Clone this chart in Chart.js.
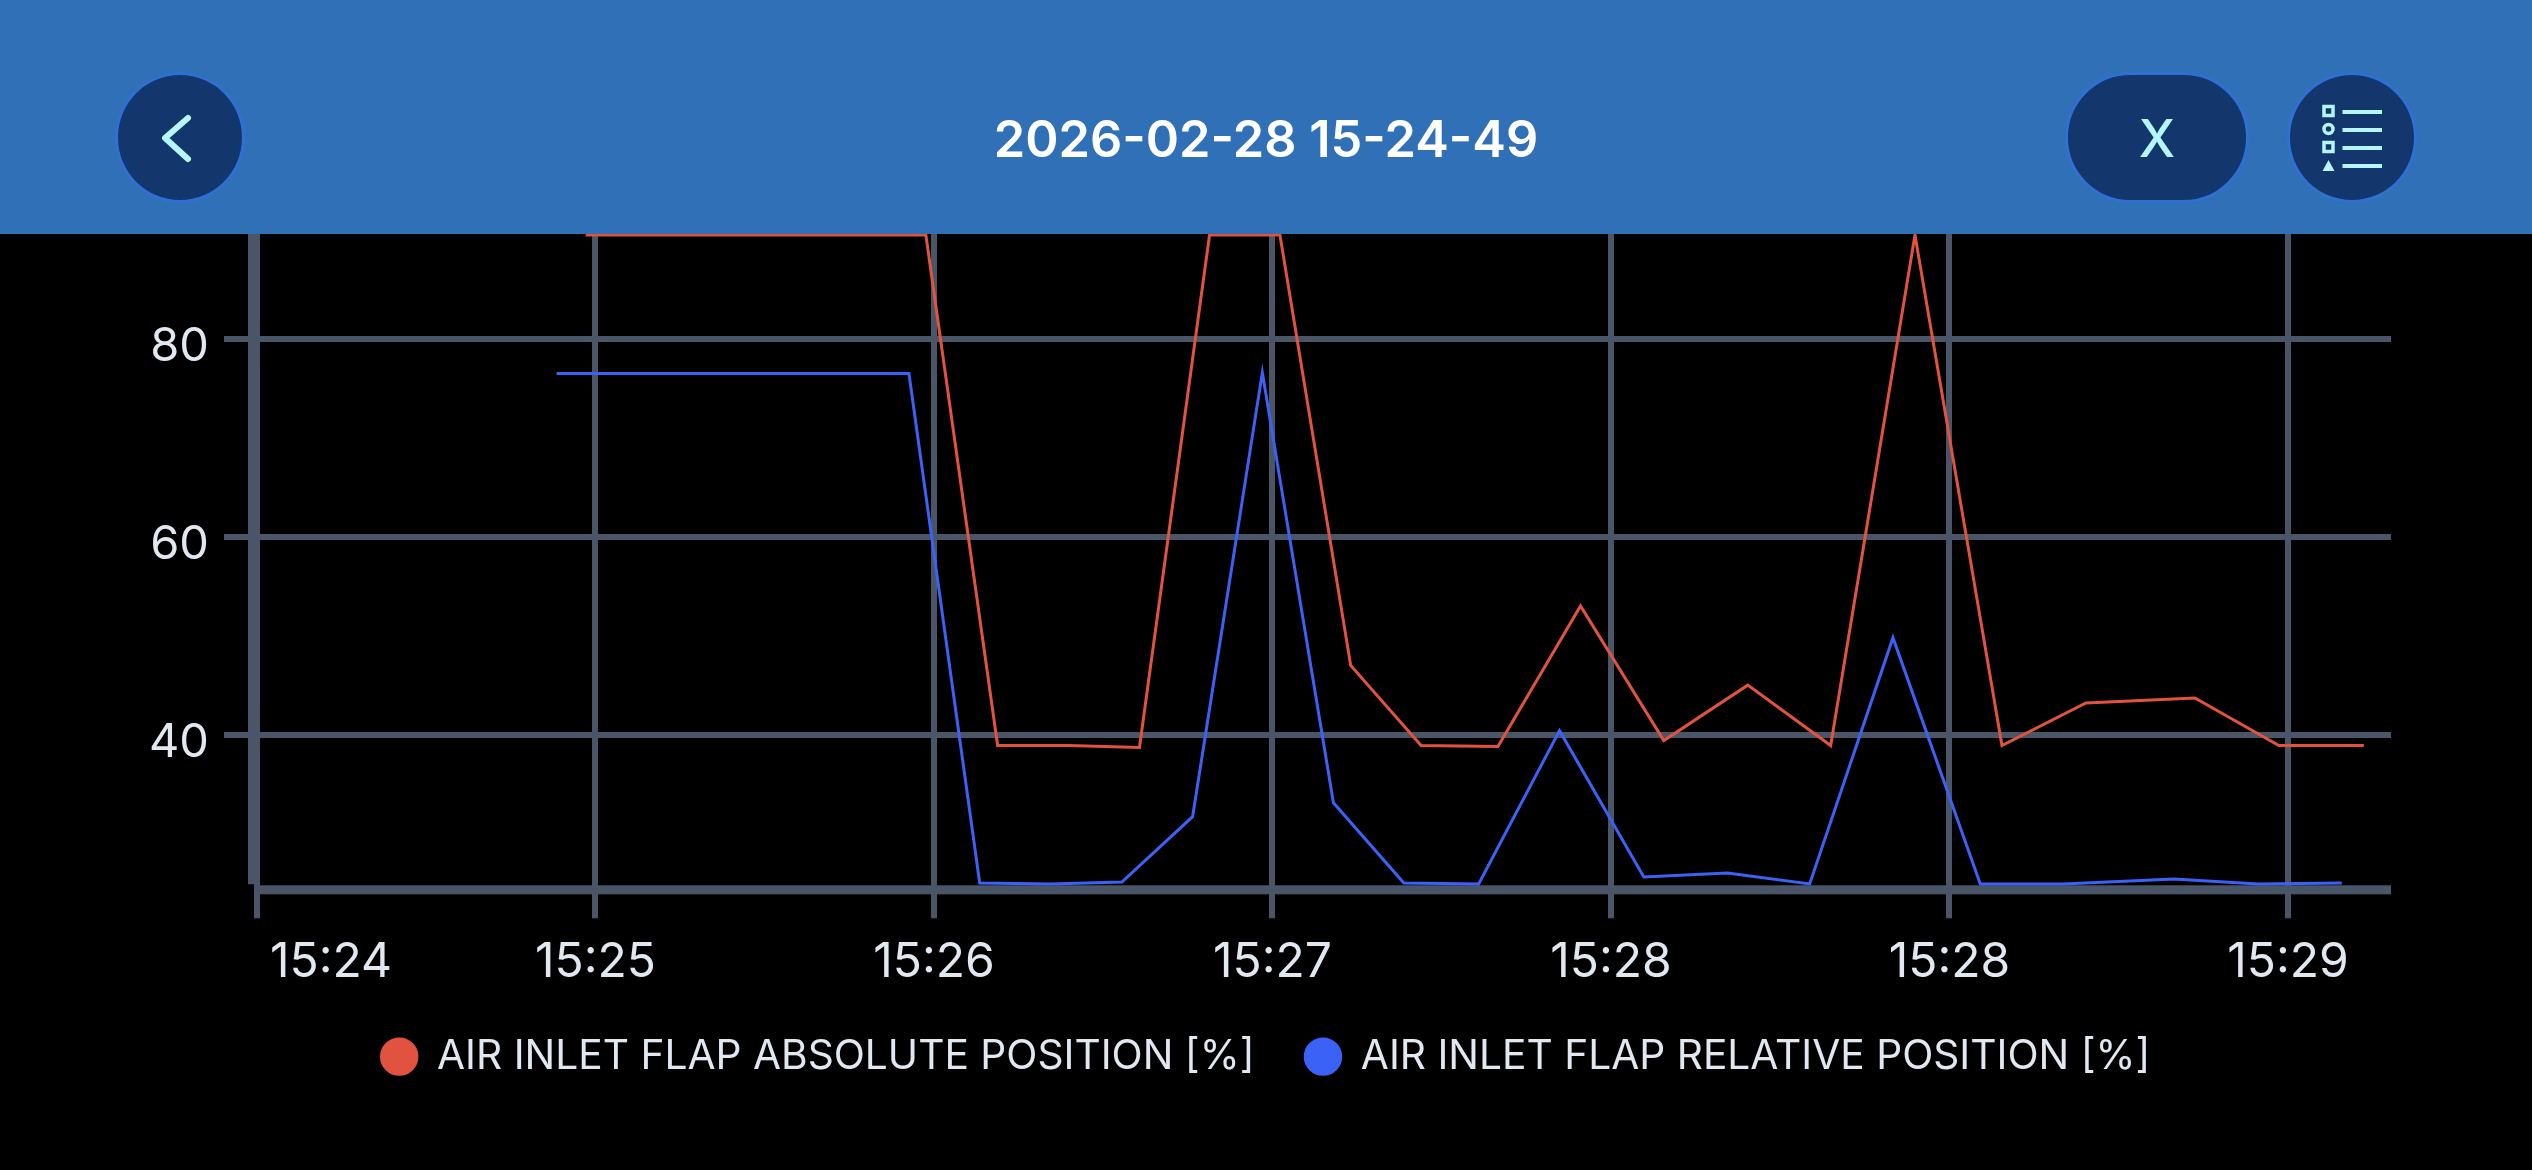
<!DOCTYPE html>
<html>
<head>
<meta charset="utf-8">
<title>2026-02-28 15-24-49</title>
<script src="https://cdn.jsdelivr.net/npm/chart.js@4"></script>
<style>
    html, body { margin: 0; padding: 0; background: #000; overflow: hidden; }
    #wrap { position: absolute; left: 0; top: 0; width: 2532px; height: 1170px; }
    #header { position: absolute; left: 0; top: 0; width: 2532px; height: 234px; background: #3070b7; }
    #title { position: absolute; left: 0; width: 100%; top: 0; height: 278px; text-align: center; font: 600 50.500px/278px Inter; color: #fff; }
    .btn { position: absolute; top: 72px; height: 131px; box-sizing: border-box; background: #13366c; border: 3px solid #2e70d4; }
    .btn svg { position: absolute; left: 0; top: 0; }
    #back { left: 115px; width: 130px; border-radius: 50%; }
    #axisBtn { left: 2065px; width: 184px; border-radius: 66px; color: #b6f6ff; font: 500 52px/127px Inter; text-align: center; }
    #list { left: 2287px; width: 130px; border-radius: 50%; }
</style>
</head>
<body>
<div id="wrap">
    <canvas id="flapChart" width="2532" height="1170"></canvas>
</div>
<div id="header">
    <div id="title">2026-02-28 15-24-49</div>
    <div class="btn" id="back">
        <svg width="124" height="125" fill="none" stroke="#b6f6ff" stroke-width="6" stroke-linecap="round" stroke-linejoin="round"><path d="M70 43 L47 63 L70 84"/></svg>
    </div>
    <div class="btn" id="axisBtn">X</div>
    <div class="btn" id="list">
        <svg width="124" height="125" fill="none" stroke="#b6f6ff" stroke-width="3.5">
            <rect x="34" y="31.500" width="9" height="9"/>
            <circle cx="38.500" cy="54" r="4.500"/>
            <rect x="34" y="67.500" width="9" height="9"/>
            <path d="M32.500 96 L44.500 96 L38.500 85 Z" fill="#b6f6ff" stroke="none"/>
            <path d="M52.500 37 H92 M52.500 55 H92 M52.500 73 H92 M52.500 91 H92" stroke-width="4"/>
        </svg>
    </div>
</div>
<script>
const tickLabels = ['15:24', '15:25', '15:26', '15:27', '15:28', '15:28', '15:29'];

// x is in tick steps from the first tick, the labels on the picture are not evenly spaced minutes
const absoluteX = [0.971, 1.317, 1.558, 1.766, 1.976, 2.188, 2.399, 2.607, 2.814, 3.022, 3.231, 3.439, 3.666, 3.910, 4.156, 4.404, 4.649, 4.898, 5.155, 5.403, 5.725, 5.973, 6.224];
const absoluteY = [90.5, 90.5, 90.5, 90.5, 90.5, 38.9, 38.9, 38.7, 90.5, 90.5, 47.0, 38.9, 38.8, 53.0, 39.4, 45.0, 38.9, 90.5, 38.9, 43.2, 43.7, 38.9, 38.9];

const relativeX = [0.885, 1.229, 1.502, 1.716, 1.926, 2.135, 2.346, 2.555, 2.764, 2.970, 3.180, 3.388, 3.609, 3.848, 4.097, 4.344, 4.587, 4.833, 5.091, 5.336, 5.663, 5.911, 6.159];
const relativeY = [76.5, 76.5, 76.5, 76.5, 76.5, 25.0, 24.9, 25.1, 31.7, 76.6, 33.1, 25.0, 24.9, 40.4, 25.6, 26.0, 24.9, 49.8, 24.9, 24.9, 25.4, 24.9, 25.0];

const xMax = 6.3043;
const yMin = 24.36;
const yMax = 94.05;

const gridColor = '#4a5568';
const textColor = '#e2e8f0';

const axisPlugin = {
    id: 'axisPlugin',
    beforeDraw(chart) {
        // first time label sits right of its tick
        const x = chart.scales.x;
        const items = x.getLabelItems(chart.chartArea);
        items[0].options.textAlign = 'left';
        items[0].options.translation[0] = x.getPixelForValue(0) + 13;
    },
    beforeDatasetsDraw(chart) {
        // the two thick axis lines don't meet in the corner
        const a = chart.chartArea;
        const ctx = chart.ctx;
        ctx.save();
        ctx.fillStyle = gridColor;
        ctx.fillRect(a.left - 9, a.top, 12, a.bottom - a.top - 5);
        ctx.fillRect(a.left, a.bottom - 4, a.right - a.left, 9);
        ctx.restore();
    }
};

new Chart(document.getElementById('flapChart'), {
    type: 'line',
    plugins: [axisPlugin],
    data: {
        datasets: [{
            label: 'AIR INLET FLAP ABSOLUTE POSITION [%]',
            data: absoluteX.map((x, i) => ({ x: x, y: absoluteY[i] })),
            borderColor: '#e2533f',
            backgroundColor: '#e2533f',
            borderWidth: 3,
            pointRadius: 0,
            tension: 0
        }, {
            label: 'AIR INLET FLAP RELATIVE POSITION [%]',
            data: relativeX.map((x, i) => ({ x: x, y: relativeY[i] })),
            borderColor: '#3a62f6',
            backgroundColor: '#3a62f6',
            borderWidth: 3,
            pointRadius: 0,
            tension: 0
        }]
    },
    options: {
        responsive: false,
        animation: false,
        layout: { padding: { left: 141, right: 141, top: 200, bottom: 83 } },
        plugins: {
            tooltip: { enabled: false },
            legend: {
                position: 'bottom',
                labels: {
                    color: textColor,
                    font: { family: 'Inter', size: 40.7, weight: 400 },
                    usePointStyle: true,
                    pointStyle: 'circle',
                    boxWidth: 35,
                    boxHeight: 25,
                    padding: 51
                }
            }
        },
        scales: {
            x: {
                type: 'linear',
                min: 0,
                max: xMax,
                afterFit: scale => { scale.height = 96; },
                border: { display: false },
                grid: { color: gridColor, lineWidth: 6, tickLength: 29, tickColor: gridColor },
                ticks: {
                    stepSize: 1,
                    includeBounds: false,
                    autoSkip: false,
                    maxRotation: 0,
                    padding: 15,
                    color: textColor,
                    font: { family: 'Inter', size: 48, weight: 400 },
                    callback: value => tickLabels[value]
                }
            },
            y: {
                min: yMin,
                max: yMax,
                afterFit: scale => { scale.width = 116; },
                border: { display: false },
                grid: { color: gridColor, lineWidth: 6, tickLength: 33, tickColor: gridColor },
                ticks: {
                    stepSize: 20,
                    includeBounds: false,
                    padding: 15,
                    labelOffset: 8,
                    color: textColor,
                    font: { family: 'Inter', size: 47, weight: 400 }
                }
            }
        }
    }
});
</script>
</body>
</html>
